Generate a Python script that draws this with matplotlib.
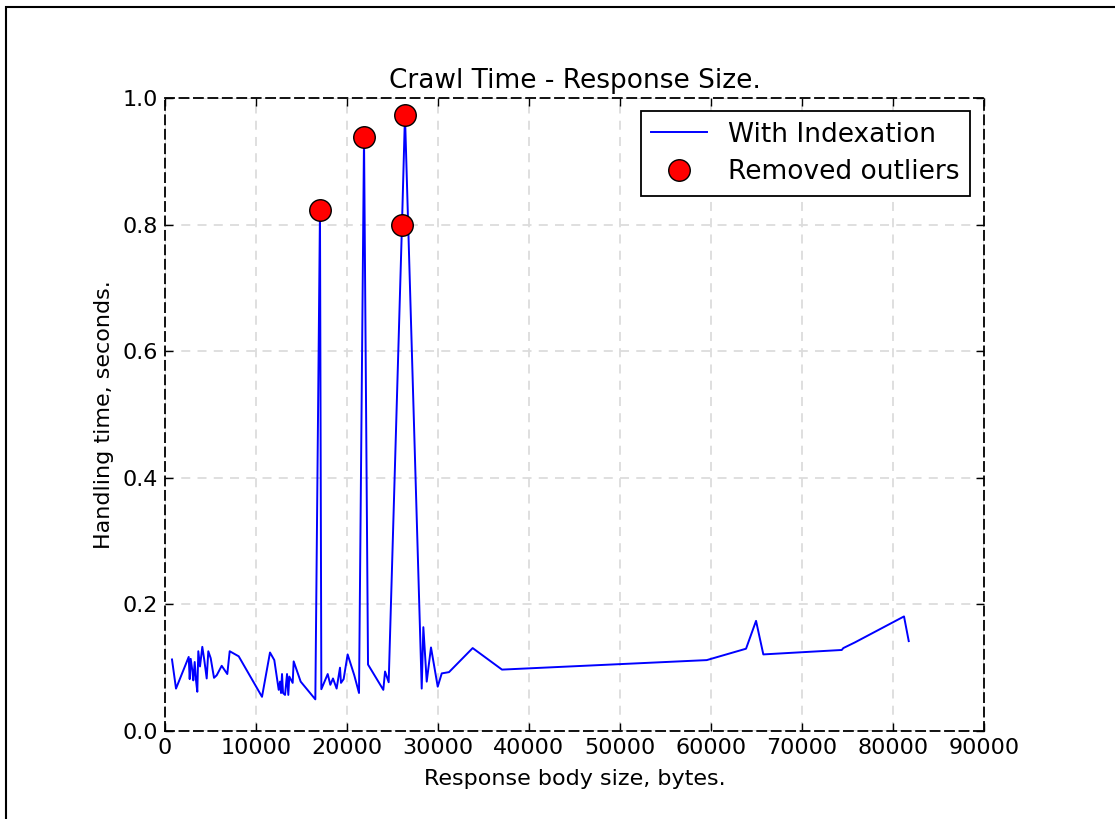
import matplotlib
matplotlib.use("Agg")
import matplotlib.pyplot as plt
from matplotlib.patches import Rectangle

# response body size (bytes) and handling time (s)
x_bytes = [769, 1209, 2604, 2714, 2824, 3000, 3110, 3264, 3407, 3550,
           3660, 3846, 4099, 4319, 4582, 4758, 5022, 5385, 5681, 6231,
           6846, 7110, 8099, 10660, 11538, 12011, 12495, 12640, 12750, 12860,
           12970, 13190, 13410, 13550, 13660, 14030, 14140, 14910, 16520, 17030,
           17180, 17880, 18170, 18460, 18860, 19230, 19340, 19630, 20070, 20800,
           21320, 21870, 22310, 23990, 24180, 24580, 26040, 26370, 28210, 28390,
           28760, 29230, 29970, 30410, 31210, 33810, 37030, 59530, 63850, 64950,
           65750, 74370, 74540, 75820, 81210, 81730]
handling_time = [0.113, 0.067, 0.117, 0.082, 0.114, 0.096, 0.080, 0.109, 0.080, 0.062,
                 0.126, 0.102, 0.133, 0.112, 0.083, 0.126, 0.115, 0.084, 0.088, 0.103,
                 0.090, 0.126, 0.118, 0.054, 0.124, 0.112, 0.065, 0.078, 0.060, 0.090,
                 0.060, 0.057, 0.090, 0.057, 0.086, 0.076, 0.110, 0.078, 0.050, 0.823,
                 0.066, 0.090, 0.073, 0.083, 0.067, 0.100, 0.076, 0.082, 0.121, 0.088,
                 0.060, 0.938, 0.105, 0.065, 0.094, 0.077, 0.799, 0.973, 0.067, 0.164,
                 0.078, 0.132, 0.070, 0.091, 0.093, 0.131, 0.097, 0.112, 0.130, 0.174,
                 0.121, 0.128, 0.131, 0.140, 0.181, 0.142]

outlier_x = [17030, 21870, 26040, 26370]
outlier_y = [0.823, 0.938, 0.799, 0.973]

x_ticks = [0, 10000, 20000, 30000, 40000, 50000, 60000, 70000, 80000, 90000]
y_ticks = [0.0, 0.2, 0.4, 0.6, 0.8, 1.0]

fig = plt.figure(figsize=(11.15, 8.19), dpi=100)
ax = fig.add_axes([165 / 1115, 88 / 819, 819 / 1115, 633 / 819])

# figure frame (only left/top edges visible in the crop)
fig.patches.append(Rectangle((6 / 1115, -0.2), 1.5, 0.2 + 1 - 7 / 819,
                             transform=fig.transFigure, fill=False,
                             edgecolor="black", linewidth=1.5, clip_on=False))

ax.plot(x_bytes, handling_time, color="blue", linewidth=1.4, label="With Indexation")
ax.plot(outlier_x, outlier_y, "o", color="red", markeredgecolor="black",
        markersize=15.5, linestyle="none", label="Removed outliers")

ax.set_xlim(0, 90000)
ax.set_ylim(0, 1.0)
ax.set_xticks(x_ticks)
ax.set_xticklabels([str(t) for t in x_ticks])
ax.set_yticks(y_ticks)
ax.set_yticklabels(["%.1f" % t for t in y_ticks])

ax.grid(True, linestyle=(0, (5, 4)), color="#dcdcdc", linewidth=1.3)
ax.set_axisbelow(True)
for sp in ax.spines.values():
    sp.set_linestyle((0, (5, 3)))
    sp.set_linewidth(1.3)
ax.tick_params(direction="in", top=True, right=True, length=6, width=1,
               labelsize=16, pad=5)

ax.set_title("Crawl Time - Response Size.", fontsize=19, pad=7)
ax.set_xlabel("Response body size, bytes.", fontsize=16, labelpad=8)
ax.set_ylabel("Handling time, seconds.", fontsize=16, labelpad=6)

leg = ax.legend(loc="upper right", bbox_to_anchor=(0.983, 0.9795), borderaxespad=0,
                fontsize=19, numpoints=1, fancybox=False, framealpha=1,
                edgecolor="black", handlelength=2.1, labelspacing=0.45)
leg.get_frame().set_linewidth(1.3)

fig.savefig("out.png", dpi=100)
